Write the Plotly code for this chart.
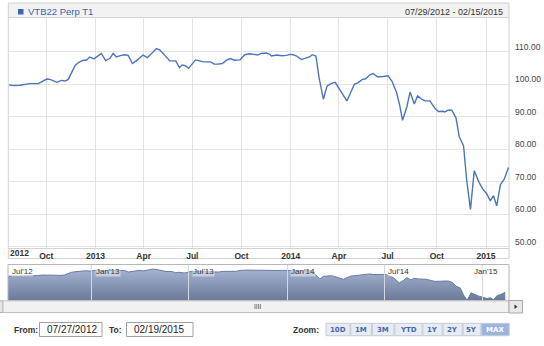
import plotly.graph_objects as go

# ---------------- data ----------------
dates = [
    "2012-07-23", "2012-07-31", "2012-08-13", "2012-08-22", "2012-08-31", "2012-09-16", "2012-09-22",
    "2012-10-02", "2012-10-08", "2012-10-14", "2012-10-21", "2012-10-29", "2012-11-05", "2012-11-11",
    "2012-11-17", "2012-11-24", "2012-11-30", "2012-12-09", "2012-12-15", "2012-12-21", "2012-12-29",
    "2013-01-05", "2013-01-12", "2013-01-20", "2013-01-28", "2013-02-03", "2013-02-09", "2013-02-18",
    "2013-02-25", "2013-03-03", "2013-03-11", "2013-03-18", "2013-03-31", "2013-04-08", "2013-04-15",
    "2013-04-25", "2013-05-01", "2013-05-10", "2013-05-20", "2013-05-31", "2013-06-07", "2013-06-12",
    "2013-06-18", "2013-06-24", "2013-07-01", "2013-07-07", "2013-07-15", "2013-07-22", "2013-08-04",
    "2013-08-11", "2013-08-18", "2013-08-26", "2013-09-03", "2013-09-10", "2013-09-18", "2013-09-28",
    "2013-10-07", "2013-10-16", "2013-10-24", "2013-10-31", "2013-11-07", "2013-11-16", "2013-11-23",
    "2013-11-26", "2013-12-06", "2013-12-15", "2013-12-24", "2013-12-31",
    "2014-01-06", "2014-01-12", "2014-01-21", "2014-01-28", "2014-02-06", "2014-02-10", "2014-02-17",
    "2014-02-23", "2014-03-03", "2014-03-10", "2014-03-18", "2014-03-25", "2014-03-31", "2014-04-06",
    "2014-04-16", "2014-04-22", "2014-04-30", "2014-05-07", "2014-05-15", "2014-05-21", "2014-05-29",
    "2014-06-04", "2014-06-12", "2014-06-23", "2014-07-02", "2014-07-09", "2014-07-18", "2014-07-24",
    "2014-07-29", "2014-08-06", "2014-08-12", "2014-08-20", "2014-08-26", "2014-09-03", "2014-09-09",
    "2014-09-18", "2014-09-28", "2014-10-04", "2014-10-13", "2014-10-16", "2014-10-23", "2014-10-29",
    "2014-11-06", "2014-11-12", "2014-11-20", "2014-11-26", "2014-12-03", "2014-12-10", "2014-12-19",
    "2014-12-26", "2015-01-02", "2015-01-09", "2015-01-15", "2015-01-21", "2015-01-28", "2015-02-04",
    "2015-02-12",
]
prices = [
    99.8, 99.6, 99.7, 100.0, 100.2, 100.2, 100.8,
    101.6, 101.5, 101.0, 100.6, 101.2, 101.0, 101.5,
    103.6, 105.8, 106.7, 107.4, 107.4, 108.4, 107.8,
    108.8, 109.5, 107.3, 108.0, 109.5, 108.4, 108.9,
    109.1, 108.9, 106.4, 107.2, 109.0, 108.2, 109.4,
    111.0, 110.6, 109.0, 107.2, 107.2, 105.1, 105.9,
    105.7, 104.9, 106.4, 107.5, 107.2, 106.9, 106.9,
    106.2, 106.2, 106.4, 107.4, 107.9, 107.4, 107.5,
    109.1, 109.4, 109.2, 109.0, 109.5, 109.6, 109.2,
    108.7, 109.0, 108.8, 108.9, 109.2,
    109.1, 108.7, 107.6, 108.0, 108.5, 109.1, 108.7,
    102.0, 95.4, 99.5, 100.3, 100.6, 99.0, 97.6,
    94.9, 97.1, 100.0, 100.5, 101.5, 101.7, 102.9,
    103.3, 102.3, 102.4, 102.6, 101.0, 97.4, 93.3,
    88.9, 93.0, 97.6, 93.9, 96.4, 95.4, 94.9,
    94.9, 92.5, 91.6, 91.7, 91.5, 92.1, 92.0,
    89.6, 83.8, 81.1, 70.3, 61.5, 73.4, 69.8,
    67.7, 66.4, 64.1, 65.7, 62.6, 69.1, 70.8,
    74.4,
]
assert len(dates) == len(prices)

series_name = "VTB22 Perp T1"
range_text = "07/29/2012 - 02/15/2015"
main_range = ["2012-07-22", "2015-02-13"]
main_tick_dates = ["2012-10-01", "2013-01-01", "2013-04-01", "2013-07-01", "2013-10-01",
                   "2014-01-01", "2014-04-01", "2014-07-01", "2014-10-01", "2015-01-01"]
main_tick_text = ["Oct", "2013", "Apr", "Jul", "Oct", "2014", "Apr", "Jul", "Oct", "2015"]
first_year_label = "2012"
first_year_label_date = "2012-08-11"
y_ticks = [50, 60, 70, 80, 90, 100, 110]
y_range = [49.6, 120.4]

nav_range = ["2012-07-29", "2015-02-19"]
nav_tick_dates = ["2012-07-01", "2013-01-01", "2013-07-01", "2014-01-01", "2014-07-01", "2015-01-01"]
nav_tick_text = ["Jul'12", "Jan'13", "Jul'13", "Jan'14", "Jul'14", "Jan'15"]
nav_y_range = [60.7, 118.3]

from_text = "07/27/2012"
to_text = "02/19/2015"
zoom_labels = ["10D", "1M", "3M", "YTD", "1Y", "2Y", "5Y", "MAX"]
selected_zoom = "MAX"

# ---------------- layout helpers ----------------
W, H = 544, 346


def px(x):
    return x / W


def py(y):
    return 1 - y / H


FONT = "Liberation Sans, Arial, sans-serif"
BLUE = "#4a74bd"
GRID = "#e3e3e3"
BORDER = "#d2d2d2"

fig = go.Figure()

# main series
fig.add_trace(go.Scatter(
    x=dates, y=prices, mode="lines", line=dict(color=BLUE, width=1.4),
    xaxis="x", yaxis="y", showlegend=False, hoverinfo="x+y",
))

# navigator series
fig.add_trace(go.Scatter(
    x=dates, y=prices, mode="lines", line=dict(color="#6a7ba0", width=1),
    fill="tozeroy",
    fillgradient=dict(type="vertical", start=nav_y_range[0], stop=nav_y_range[1],
                      colorscale=[[0, "#6a7998"], [1, "#aebcda"]]),
    xaxis="x2", yaxis="y2", showlegend=False, hoverinfo="skip",
))

left, right = 8.3, 509.0

shapes = []
annotations = []

# main panel border and header
shapes.append(dict(type="rect", xref="paper", yref="paper", x0=px(left), x1=px(right),
                   y0=py(258.5), y1=py(17.5), line=dict(color=BORDER, width=1), layer="below"))
shapes.append(dict(type="rect", xref="paper", yref="paper", x0=px(left), x1=px(right),
                   y0=py(17.5), y1=py(3), fillcolor="#f2f2f2", line=dict(color=BORDER, width=1)))
shapes.append(dict(type="rect", xref="paper", yref="paper", x0=px(18), x1=px(23.5),
                   y0=py(14.5), y1=py(9), fillcolor="#3a64b2", line=dict(width=0)))
annotations.append(dict(xref="paper", yref="paper", x=px(25.5), y=py(11.5), text=series_name,
                        showarrow=False, xanchor="left", yanchor="middle",
                        font=dict(family=FONT, size=9.5, color="#3a64b2")))
annotations.append(dict(xref="paper", yref="paper", x=px(504.5), y=py(11.5), text=range_text,
                        showarrow=False, xanchor="right", yanchor="middle",
                        font=dict(family=FONT, size=9, color="#333333")))
annotations.append(dict(xref="x", yref="paper", x=first_year_label_date, y=py(253.5),
                        text="<b>" + first_year_label + "</b>", showarrow=False,
                        xanchor="center", yanchor="middle",
                        font=dict(family=FONT, size=8.5, color="#333333")))

# navigator border
shapes.append(dict(type="rect", xref="paper", yref="paper", x0=px(8), x1=px(right),
                   y0=py(300.8), y1=py(264.5), line=dict(color="#b6b6bc", width=1)))

# navigator tick labels (kept inside the navigator range)
for i, (d, t) in enumerate(zip(nav_tick_dates, nav_tick_text)):
    last = i == len(nav_tick_dates) - 1
    if last:
        xd, anchor, shift = nav_range[1], "right", -10
    else:
        xd, anchor, shift = (d if d >= nav_range[0] else nav_range[0]), "left", 3
    annotations.append(dict(xref="x2", yref="paper", x=xd, y=py(266.2), text=t,
                            showarrow=False, xanchor=anchor, yanchor="top", xshift=shift,
                            bgcolor="rgba(255,255,255,0.45)", borderpad=0,
                            font=dict(family=FONT, size=8, color="#333333")))

# scrollbar
shapes.append(dict(type="rect", xref="paper", yref="paper", x0=px(-8), x1=px(3),
                   y0=py(312.5), y1=py(300.8), fillcolor="#e4e4e4", line=dict(color="#b0b0b0", width=1)))
shapes.append(dict(type="rect", xref="paper", yref="paper", x0=px(3), x1=px(right),
                   y0=py(312.5), y1=py(300.8), fillcolor="#f1f1f1", line=dict(color="#c0c0c0", width=1)))
shapes.append(dict(type="rect", xref="paper", yref="paper", x0=px(right), x1=px(522.5),
                   y0=py(313), y1=py(300.5), fillcolor="#e8e8e8", line=dict(color="#a8a8a8", width=1)))
shapes.append(dict(type="path", xref="paper", yref="paper",
                   path=f"M {px(514.5)},{py(304.5)} L {px(517.5)},{py(306.7)} L {px(514.5)},{py(308.9)} Z",
                   fillcolor="#333333", line=dict(width=0)))
for gx in [255, 256.8, 258.6, 260.4]:
    shapes.append(dict(type="line", xref="paper", yref="paper", x0=px(gx), x1=px(gx),
                       y0=py(304), y1=py(309), line=dict(color="#666666", width=0.8)))

# From / To inputs
annotations.append(dict(xref="paper", yref="paper", x=px(12), y=py(329.5), text="<b>From:</b>",
                        showarrow=False, xanchor="left", yanchor="middle",
                        font=dict(family=FONT, size=8.5, color="#333333")))
shapes.append(dict(type="rect", xref="paper", yref="paper", x0=px(39.5), x1=px(102),
                   y0=py(336.5), y1=py(322.5), fillcolor="white", line=dict(color="#a0a0a0", width=1)))
annotations.append(dict(xref="paper", yref="paper", x=px(45), y=py(329.5), text=from_text,
                        showarrow=False, xanchor="left", yanchor="middle",
                        font=dict(family=FONT, size=10, color="#222222")))
annotations.append(dict(xref="paper", yref="paper", x=px(107), y=py(329.5), text="<b>To:</b>",
                        showarrow=False, xanchor="left", yanchor="middle",
                        font=dict(family=FONT, size=8.5, color="#333333")))
shapes.append(dict(type="rect", xref="paper", yref="paper", x0=px(126.5), x1=px(193),
                   y0=py(336.5), y1=py(322.5), fillcolor="white", line=dict(color="#a0a0a0", width=1)))
annotations.append(dict(xref="paper", yref="paper", x=px(132), y=py(329.5), text=to_text,
                        showarrow=False, xanchor="left", yanchor="middle",
                        font=dict(family=FONT, size=10, color="#222222")))

# zoom buttons
annotations.append(dict(xref="paper", yref="paper", x=px(320.5), y=py(329.5), text="<b>Zoom:</b>",
                        showarrow=False, xanchor="right", yanchor="middle",
                        font=dict(family=FONT, size=8.5, color="#333333")))
btn_widths = [24, 20.7, 21.7, 27.3, 19.3, 19.3, 17.7, 27.6]
bx = 326
for lab, w in zip(zoom_labels, btn_widths):
    sel = lab == selected_zoom
    shapes.append(dict(type="rect", xref="paper", yref="paper", x0=px(bx), x1=px(bx + w),
                       y0=py(335.7), y1=py(323.3),
                       fillcolor="#9bb3de" if sel else "#e8ecf2",
                       line=dict(color="#c4cad4", width=1)))
    annotations.append(dict(xref="paper", yref="paper", x=px(bx + w / 2), y=py(329.5),
                            text="<b>" + lab + "</b>", showarrow=False,
                            xanchor="center", yanchor="middle",
                            font=dict(family="DejaVu Sans, Verdana, sans-serif", size=7,
                                      color="white" if sel else "#3d68b0")))
    bx += w + 0.8

fig.update_layout(
    width=W, height=H, autosize=False,
    margin=dict(l=0, r=0, t=0, b=0, pad=0),
    paper_bgcolor="white", plot_bgcolor="rgba(0,0,0,0)",
    font=dict(family=FONT, color="#333333"),
    showlegend=False,
    xaxis=dict(
        domain=[px(left), px(right)], range=main_range, anchor="y",
        tickvals=main_tick_dates, ticktext=["<b>%s</b>" % t for t in main_tick_text],
        showgrid=True, gridcolor=GRID, gridwidth=1, zeroline=False,
        showline=True, linecolor=BORDER, linewidth=1, ticks="",
        tickfont=dict(family=FONT, size=8.5, color="#333333"), ticklabelstandoff=0,
    ),
    yaxis=dict(
        domain=[py(248), py(18)], range=y_range, anchor="x", side="right",
        tickvals=y_ticks, tickformat=".2f",
        showgrid=True, gridcolor=GRID, gridwidth=1, zeroline=False, showline=False, ticks="",
        tickfont=dict(family=FONT, size=8.5, color="#444444"),
        ticklabelshift=-5, ticklabelstandoff=5,
    ),
    xaxis2=dict(
        domain=[px(8), px(right)], range=nav_range, anchor="y2", side="top",
        tickvals=nav_tick_dates, showticklabels=False,
        showgrid=False, zeroline=False, showline=False,
        ticks="inside", ticklen=36, tickcolor="#d4d8e0", tickwidth=1,
        layer="above traces",
    ),
    yaxis2=dict(
        domain=[py(300.8), py(264.5)], range=nav_y_range, anchor="x2",
        visible=False, showgrid=False, zeroline=False,
    ),
    shapes=shapes,
    annotations=annotations,
)

fig.write_html("out.html")
